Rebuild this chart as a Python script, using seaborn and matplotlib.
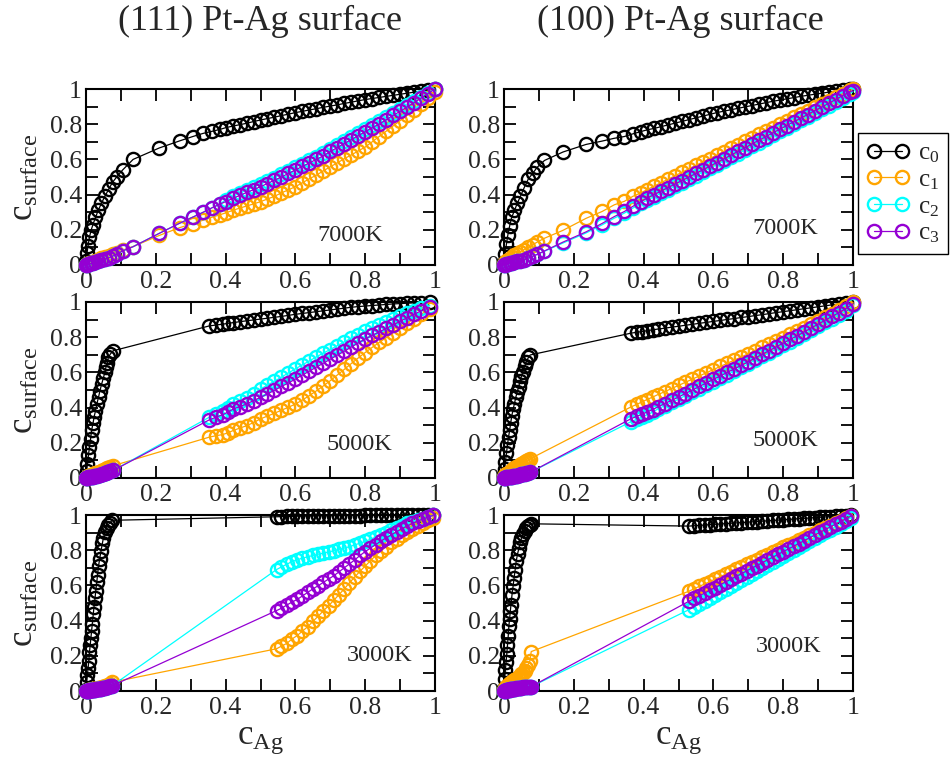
import matplotlib
matplotlib.use('Agg')
import matplotlib.pyplot as plt
import seaborn as sns
from matplotlib.ticker import MultipleLocator, FuncFormatter

sns.set_style('ticks')
plt.rcParams['font.family'] = ['Liberation Serif', 'DejaVu Serif']
plt.rcParams['mathtext.fontset'] = 'custom'
plt.rcParams['mathtext.rm'] = 'Liberation Serif'
plt.rcParams['mathtext.it'] = 'Liberation Serif:italic'

# ---- data: overall c_Ag and surface concentrations c0..c3 ----
# (111) surface, 7000K
x_111_7000 = [0.0, 0.003, 0.006, 0.01, 0.015, 0.02, 0.027, 0.035, 0.044, 0.054, 0.065, 0.076, 0.088,
              0.105, 0.135, 0.21, 0.268, 0.306, 0.336, 0.362, 0.383, 0.40,
              0.42, 0.44, 0.46, 0.48, 0.50, 0.52, 0.54, 0.56, 0.58, 0.60, 0.62, 0.64, 0.66, 0.68, 0.70,
              0.72, 0.74, 0.76, 0.78, 0.80, 0.82, 0.84, 0.86, 0.88, 0.90, 0.92, 0.94, 0.96, 0.98, 1.0]
c0_111_7000 = [0.02, 0.07, 0.11, 0.16, 0.20, 0.23, 0.27, 0.31, 0.35, 0.39, 0.43, 0.47, 0.50,
               0.54, 0.60, 0.665, 0.705, 0.73, 0.748, 0.76, 0.77, 0.78,
               0.789, 0.797, 0.805, 0.815, 0.824, 0.832, 0.84, 0.849, 0.857, 0.866, 0.873, 0.881, 0.888, 0.896, 0.903,
               0.91, 0.918, 0.925, 0.933, 0.94, 0.946, 0.952, 0.958, 0.964, 0.97, 0.976, 0.982, 0.988, 0.994, 1.0]
c1_111_7000 = [0.0, 0.003, 0.006, 0.01, 0.014, 0.018, 0.024, 0.03, 0.037, 0.045, 0.053, 0.062, 0.07,
               0.085, 0.105, 0.168, 0.212, 0.235, 0.255, 0.272, 0.285, 0.296,
               0.31, 0.323, 0.335, 0.347, 0.36, 0.375, 0.39, 0.41, 0.427, 0.445, 0.467, 0.49, 0.51, 0.535, 0.558,
               0.58, 0.604, 0.625, 0.648, 0.67, 0.70, 0.73, 0.76, 0.79, 0.82, 0.85, 0.88, 0.915, 0.95, 0.985]
c2_111_7000 = [0.0, 0.002, 0.004, 0.006, 0.009, 0.012, 0.016, 0.021, 0.027, 0.034, 0.042, 0.05, 0.06,
               0.08, 0.104, 0.18, 0.237, 0.272, 0.30, 0.326, 0.345, 0.37,
               0.39, 0.408, 0.425, 0.443, 0.46, 0.478, 0.497, 0.516, 0.536, 0.556, 0.576, 0.596, 0.616, 0.637, 0.66,
               0.682, 0.705, 0.727, 0.75, 0.772, 0.794, 0.816, 0.84, 0.863, 0.886, 0.91, 0.933, 0.956, 0.978, 1.0]
c3_111_7000 = [0.0, 0.002, 0.004, 0.006, 0.009, 0.012, 0.016, 0.021, 0.027, 0.034, 0.042, 0.05, 0.06,
               0.08, 0.104, 0.18, 0.237, 0.272, 0.30, 0.326, 0.345, 0.36,
               0.378, 0.395, 0.412, 0.428, 0.445, 0.463, 0.482, 0.50, 0.52, 0.54, 0.56, 0.58, 0.60, 0.62, 0.645,
               0.667, 0.69, 0.712, 0.735, 0.757, 0.78, 0.80, 0.825, 0.85, 0.873, 0.898, 0.922, 0.948, 0.974, 1.0]

# (100) surface, 7000K
x_100_7000 = [0.0, 0.003, 0.007, 0.011, 0.016, 0.022, 0.03, 0.038, 0.047, 0.058, 0.07, 0.082, 0.095,
              0.116, 0.169, 0.235, 0.281, 0.316, 0.345, 0.369, 0.392,
              0.41, 0.43, 0.45, 0.47, 0.49, 0.51, 0.53, 0.55, 0.57, 0.59, 0.61, 0.63, 0.65, 0.67, 0.69,
              0.71, 0.73, 0.75, 0.77, 0.79, 0.81, 0.83, 0.85, 0.87, 0.89, 0.91, 0.93, 0.95, 0.97, 0.99, 1.0]
c0_100_7000 = [0.01, 0.06, 0.12, 0.17, 0.22, 0.27, 0.31, 0.35, 0.39, 0.44, 0.49, 0.52, 0.555,
               0.594, 0.642, 0.685, 0.704, 0.72, 0.73, 0.745, 0.758,
               0.768, 0.776, 0.786, 0.796, 0.806, 0.816, 0.826, 0.836, 0.846, 0.856, 0.866, 0.874, 0.882, 0.89, 0.898,
               0.906, 0.914, 0.922, 0.93, 0.937, 0.944, 0.951, 0.958, 0.964, 0.97, 0.976, 0.982, 0.988, 0.994, 0.998, 1.0]
c1_100_7000 = [0.005, 0.012, 0.02, 0.027, 0.035, 0.045, 0.055, 0.065, 0.075, 0.088, 0.10, 0.115, 0.13,
               0.152, 0.197, 0.265, 0.304, 0.342, 0.362, 0.39, 0.41,
               0.428, 0.448, 0.468, 0.487, 0.507, 0.527, 0.547, 0.566, 0.586, 0.605, 0.625, 0.644, 0.664, 0.683, 0.703,
               0.722, 0.742, 0.761, 0.781, 0.80, 0.82, 0.839, 0.858, 0.877, 0.896, 0.915, 0.934, 0.953, 0.973, 0.992, 1.0]
c2_100_7000 = [0.0, 0.002, 0.004, 0.006, 0.009, 0.012, 0.016, 0.02, 0.025, 0.03, 0.04, 0.05, 0.06,
               0.078, 0.125, 0.182, 0.228, 0.266, 0.295, 0.323, 0.35,
               0.368, 0.388, 0.408, 0.428, 0.448, 0.468, 0.488, 0.508, 0.529, 0.55, 0.57, 0.591, 0.612, 0.633, 0.654,
               0.675, 0.696, 0.717, 0.738, 0.759, 0.78, 0.801, 0.822, 0.843, 0.864, 0.885, 0.906, 0.928, 0.95, 0.972, 0.985]
c3_100_7000 = [0.0, 0.002, 0.004, 0.006, 0.009, 0.012, 0.016, 0.02, 0.025, 0.03, 0.04, 0.05, 0.06,
               0.08, 0.13, 0.188, 0.236, 0.275, 0.304, 0.333, 0.36,
               0.38, 0.40, 0.42, 0.44, 0.46, 0.48, 0.50, 0.52, 0.541, 0.562, 0.582, 0.603, 0.624, 0.645, 0.666,
               0.687, 0.708, 0.729, 0.75, 0.771, 0.792, 0.813, 0.834, 0.855, 0.876, 0.897, 0.918, 0.94, 0.962, 0.984, 0.99]

# (111) surface, 5000K
x_111_5000 = [0.0, 0.002, 0.004, 0.007, 0.01, 0.013, 0.016, 0.02, 0.023, 0.027, 0.031, 0.036, 0.04, 0.045,
              0.05, 0.054, 0.057, 0.061, 0.064, 0.07, 0.078,
              0.353, 0.372, 0.392, 0.408, 0.422,
              0.44, 0.46, 0.48, 0.50, 0.52, 0.54, 0.56, 0.58, 0.60, 0.62, 0.64, 0.66, 0.68, 0.70, 0.72, 0.74,
              0.76, 0.78, 0.80, 0.82, 0.84, 0.86, 0.88, 0.90, 0.92, 0.94, 0.96, 0.985]
c0_111_5000 = [0.005, 0.04, 0.08, 0.13, 0.175, 0.22, 0.27, 0.31, 0.345, 0.38, 0.42, 0.46, 0.496, 0.535,
               0.57, 0.60, 0.628, 0.655, 0.685, 0.705, 0.723,
               0.864, 0.869, 0.874, 0.879, 0.883,
               0.888, 0.893, 0.898, 0.903, 0.908, 0.913, 0.918, 0.924, 0.93, 0.935, 0.94, 0.945, 0.95, 0.955, 0.96, 0.965,
               0.97, 0.974, 0.977, 0.98, 0.983, 0.986, 0.989, 0.991, 0.993, 0.995, 0.997, 0.999]
c1_111_5000 = [0.0, 0.003, 0.006, 0.009, 0.012, 0.015, 0.018, 0.021, 0.024, 0.027, 0.03, 0.033, 0.036, 0.04,
               0.043, 0.047, 0.05, 0.054, 0.058, 0.064, 0.07,
               0.232, 0.24, 0.247, 0.258, 0.27,
               0.283, 0.297, 0.315, 0.336, 0.352, 0.368, 0.385, 0.402, 0.42, 0.443, 0.468, 0.495, 0.523, 0.553, 0.585, 0.617,
               0.65, 0.682, 0.713, 0.742, 0.77, 0.797, 0.825, 0.855, 0.88, 0.905, 0.93, 0.96]
c2_111_5000 = [0.0, 0.001, 0.002, 0.003, 0.004, 0.005, 0.006, 0.008, 0.01, 0.012, 0.014, 0.016, 0.018, 0.021,
               0.024, 0.027, 0.03, 0.033, 0.036, 0.04, 0.043,
               0.345, 0.365, 0.383, 0.40, 0.42,
               0.437, 0.455, 0.48, 0.505, 0.528, 0.55, 0.573, 0.597, 0.62, 0.643, 0.665, 0.688, 0.71, 0.73, 0.752, 0.773,
               0.795, 0.815, 0.835, 0.853, 0.87, 0.887, 0.903, 0.92, 0.935, 0.95, 0.965, 0.98]
c3_111_5000 = [0.0, 0.001, 0.002, 0.003, 0.004, 0.005, 0.006, 0.008, 0.01, 0.012, 0.014, 0.016, 0.018, 0.021,
               0.024, 0.027, 0.03, 0.033, 0.036, 0.04, 0.043,
               0.33, 0.345, 0.36, 0.376, 0.392,
               0.405, 0.42, 0.44, 0.458, 0.478, 0.498, 0.52, 0.54, 0.562, 0.585, 0.607, 0.63, 0.652, 0.675, 0.698, 0.72,
               0.744, 0.767, 0.79, 0.81, 0.83, 0.85, 0.87, 0.89, 0.91, 0.93, 0.95, 0.97]

# (100) surface, 5000K
x_100_5000 = [0.0, 0.002, 0.004, 0.007, 0.01, 0.013, 0.016, 0.019, 0.022, 0.026, 0.03, 0.034, 0.038, 0.042,
              0.046, 0.05, 0.054, 0.059, 0.064, 0.07, 0.075,
              0.364, 0.38, 0.395, 0.41, 0.426,
              0.44, 0.46, 0.48, 0.50, 0.52, 0.54, 0.56, 0.58, 0.60, 0.62, 0.64, 0.66, 0.68, 0.70, 0.72, 0.74,
              0.76, 0.78, 0.80, 0.82, 0.84, 0.86, 0.88, 0.90, 0.92, 0.94, 0.96, 0.98, 1.0]
c0_100_5000 = [0.013, 0.05, 0.09, 0.14, 0.19, 0.232, 0.27, 0.31, 0.35, 0.39, 0.423, 0.46, 0.49, 0.518,
               0.55, 0.58, 0.604, 0.635, 0.661, 0.685, 0.699,
               0.823, 0.828, 0.832, 0.837, 0.842,
               0.846, 0.851, 0.857, 0.862, 0.868, 0.873, 0.879, 0.884, 0.89, 0.895, 0.901, 0.906, 0.912, 0.917, 0.923, 0.928,
               0.934, 0.94, 0.945, 0.951, 0.956, 0.962, 0.967, 0.973, 0.978, 0.984, 0.989, 0.995, 1.0]
c1_100_5000 = [0.005, 0.01, 0.015, 0.02, 0.025, 0.03, 0.035, 0.04, 0.045, 0.05, 0.055, 0.06, 0.065, 0.07,
               0.075, 0.08, 0.085, 0.09, 0.095, 0.102, 0.109,
               0.404, 0.418, 0.432, 0.446, 0.46,
               0.473, 0.49, 0.508, 0.526, 0.544, 0.562, 0.58, 0.598, 0.616, 0.634, 0.652, 0.67, 0.688, 0.706, 0.724, 0.742,
               0.76, 0.778, 0.797, 0.816, 0.835, 0.854, 0.873, 0.892, 0.912, 0.932, 0.953, 0.975, 0.998]
c2_100_5000 = [0.0, 0.001, 0.002, 0.003, 0.004, 0.005, 0.006, 0.007, 0.008, 0.009, 0.01, 0.012, 0.014, 0.016,
               0.018, 0.02, 0.022, 0.024, 0.027, 0.03, 0.032,
               0.32, 0.333, 0.346, 0.36, 0.374,
               0.391, 0.41, 0.429, 0.448, 0.468, 0.488, 0.508, 0.528, 0.548, 0.568, 0.588, 0.608, 0.628, 0.649, 0.67, 0.691,
               0.712, 0.733, 0.754, 0.775, 0.796, 0.818, 0.84, 0.862, 0.884, 0.906, 0.928, 0.951, 0.985]
c3_100_5000 = [0.0, 0.001, 0.002, 0.003, 0.004, 0.005, 0.006, 0.007, 0.008, 0.009, 0.01, 0.012, 0.014, 0.016,
               0.018, 0.02, 0.022, 0.024, 0.027, 0.03, 0.032,
               0.337, 0.35, 0.362, 0.375, 0.389,
               0.403, 0.422, 0.441, 0.46, 0.48, 0.50, 0.52, 0.54, 0.56, 0.58, 0.60, 0.62, 0.64, 0.661, 0.682, 0.703,
               0.724, 0.745, 0.766, 0.787, 0.808, 0.83, 0.852, 0.874, 0.896, 0.918, 0.94, 0.963, 0.99]

# (111) surface, 3000K
x_111_3000 = [0.0, 0.002, 0.004, 0.006, 0.008, 0.01, 0.012, 0.014, 0.016, 0.018, 0.021, 0.023, 0.026,
              0.028, 0.031, 0.033, 0.036, 0.039, 0.043, 0.047, 0.05, 0.055, 0.059, 0.064, 0.069, 0.075,
              0.546, 0.56, 0.575, 0.59, 0.605, 0.62, 0.635, 0.65, 0.665, 0.68, 0.695, 0.71, 0.725, 0.74, 0.755,
              0.77, 0.785, 0.80, 0.815, 0.83, 0.845, 0.86, 0.875, 0.89, 0.905, 0.92, 0.935, 0.95, 0.965, 0.98, 0.995]
c0_111_3000 = [0.005, 0.05, 0.09, 0.13, 0.17, 0.22, 0.26, 0.30, 0.34, 0.38, 0.44, 0.48, 0.53,
               0.57, 0.62, 0.66, 0.71, 0.75, 0.795, 0.84, 0.87, 0.905, 0.928, 0.945, 0.957, 0.97,
               0.99, 0.991, 0.992, 0.992, 0.993, 0.993, 0.994, 0.994, 0.995, 0.995, 0.995, 0.996, 0.996, 0.996, 0.997,
               0.997, 0.997, 0.998, 0.998, 0.998, 0.998, 0.999, 0.999, 0.999, 0.999, 0.999, 1.0, 1.0, 1.0, 1.0, 1.0]
c1_111_3000 = [0.0, 0.001, 0.002, 0.003, 0.004, 0.005, 0.006, 0.007, 0.008, 0.009, 0.01, 0.011, 0.012,
               0.013, 0.014, 0.015, 0.016, 0.017, 0.019, 0.021, 0.023, 0.027, 0.031, 0.036, 0.042, 0.05,
               0.24, 0.255, 0.27, 0.295, 0.315, 0.34, 0.365, 0.395, 0.425, 0.455, 0.485, 0.515, 0.548, 0.58, 0.615,
               0.648, 0.68, 0.71, 0.74, 0.77, 0.795, 0.82, 0.845, 0.865, 0.885, 0.905, 0.92, 0.94, 0.955, 0.97, 0.985]
c2_111_3000 = [0.0, 0.001, 0.001, 0.002, 0.002, 0.003, 0.003, 0.004, 0.005, 0.005, 0.006, 0.007, 0.008,
               0.009, 0.01, 0.011, 0.012, 0.013, 0.014, 0.015, 0.017, 0.019, 0.021, 0.024, 0.027, 0.03,
               0.69, 0.705, 0.72, 0.735, 0.745, 0.755, 0.762, 0.77, 0.777, 0.783, 0.79, 0.797, 0.805, 0.812, 0.82,
               0.83, 0.84, 0.85, 0.862, 0.875, 0.888, 0.90, 0.913, 0.926, 0.94, 0.952, 0.963, 0.972, 0.98, 0.99, 0.998]
c3_111_3000 = [0.0, 0.001, 0.001, 0.002, 0.002, 0.003, 0.003, 0.004, 0.005, 0.005, 0.006, 0.007, 0.008,
               0.009, 0.01, 0.011, 0.012, 0.013, 0.014, 0.015, 0.017, 0.019, 0.021, 0.024, 0.027, 0.03,
               0.457, 0.47, 0.488, 0.505, 0.52, 0.54, 0.56, 0.58, 0.598, 0.617, 0.636, 0.655, 0.677, 0.70, 0.722,
               0.745, 0.77, 0.792, 0.812, 0.832, 0.852, 0.87, 0.887, 0.905, 0.922, 0.937, 0.952, 0.965, 0.977, 0.988, 0.998]

# (100) surface, 3000K
x_100_3000 = [0.0, 0.002, 0.004, 0.006, 0.008, 0.01, 0.012, 0.014, 0.016, 0.018, 0.02, 0.023, 0.026,
              0.029, 0.032, 0.035, 0.039, 0.043, 0.047, 0.05, 0.055, 0.059, 0.064, 0.069, 0.074, 0.078,
              0.53, 0.545, 0.56, 0.575, 0.59, 0.605, 0.62, 0.635, 0.65, 0.665, 0.68, 0.695, 0.71, 0.725, 0.74,
              0.755, 0.77, 0.785, 0.80, 0.815, 0.83, 0.845, 0.86, 0.875, 0.89, 0.905, 0.92, 0.935, 0.95, 0.965, 0.98, 0.995]
c0_100_3000 = [0.01, 0.07, 0.12, 0.167, 0.21, 0.262, 0.31, 0.37, 0.41, 0.452, 0.49, 0.548, 0.595,
               0.643, 0.69, 0.738, 0.78, 0.814, 0.845, 0.87, 0.89, 0.909, 0.925, 0.937, 0.945, 0.95,
               0.937, 0.939, 0.941, 0.943, 0.945, 0.947, 0.949, 0.951, 0.953, 0.955, 0.957, 0.959, 0.961, 0.963, 0.965,
               0.967, 0.969, 0.971, 0.973, 0.975, 0.977, 0.979, 0.981, 0.983, 0.985, 0.987, 0.989, 0.991, 0.993, 0.995, 0.997, 0.999]
c1_100_3000 = [0.005, 0.01, 0.015, 0.02, 0.024, 0.028, 0.032, 0.036, 0.04, 0.044, 0.048, 0.052, 0.056,
               0.06, 0.065, 0.07, 0.075, 0.08, 0.088, 0.095, 0.105, 0.115, 0.13, 0.15, 0.17, 0.224,
               0.567, 0.581, 0.595, 0.608, 0.622, 0.636, 0.65, 0.664, 0.678, 0.691, 0.705, 0.719, 0.733, 0.747, 0.76,
               0.774, 0.788, 0.802, 0.816, 0.829, 0.843, 0.857, 0.871, 0.885, 0.898, 0.912, 0.926, 0.94, 0.954, 0.968, 0.981, 0.995]
c2_100_3000 = [0.0, 0.001, 0.002, 0.003, 0.004, 0.005, 0.006, 0.007, 0.008, 0.009, 0.01, 0.011, 0.012,
               0.013, 0.014, 0.015, 0.016, 0.017, 0.018, 0.019, 0.02, 0.021, 0.022, 0.023, 0.024, 0.025,
               0.462, 0.479, 0.496, 0.513, 0.53, 0.546, 0.563, 0.58, 0.597, 0.614, 0.631, 0.648, 0.664, 0.681, 0.698,
               0.715, 0.732, 0.749, 0.766, 0.782, 0.799, 0.816, 0.833, 0.85, 0.867, 0.884, 0.901, 0.917, 0.934, 0.951, 0.968, 0.985]
c3_100_3000 = [0.0, 0.001, 0.002, 0.003, 0.004, 0.005, 0.006, 0.007, 0.008, 0.009, 0.01, 0.011, 0.012,
               0.013, 0.014, 0.015, 0.016, 0.017, 0.018, 0.019, 0.02, 0.021, 0.022, 0.023, 0.024, 0.025,
               0.51, 0.526, 0.541, 0.557, 0.573, 0.588, 0.604, 0.62, 0.635, 0.651, 0.666, 0.682, 0.698, 0.713, 0.729,
               0.745, 0.76, 0.776, 0.792, 0.807, 0.823, 0.838, 0.854, 0.87, 0.885, 0.901, 0.917, 0.932, 0.948, 0.963, 0.979, 0.995]

series_labels = [r'$\mathrm{c}_0$', r'$\mathrm{c}_1$', r'$\mathrm{c}_2$', r'$\mathrm{c}_3$']
series_colors = ['black', '#FFA500', '#00FFFF', '#9400D3']
titles = ['(111) Pt-Ag surface', '(100) Pt-Ag surface']
temps = ['7000K', '5000K', '3000K']

panels = {
    (0, 0): (x_111_7000, [c0_111_7000, c1_111_7000, c2_111_7000, c3_111_7000]),
    (0, 1): (x_100_7000, [c0_100_7000, c1_100_7000, c2_100_7000, c3_100_7000]),
    (1, 0): (x_111_5000, [c0_111_5000, c1_111_5000, c2_111_5000, c3_111_5000]),
    (1, 1): (x_100_5000, [c0_100_5000, c1_100_5000, c2_100_5000, c3_100_5000]),
    (2, 0): (x_111_3000, [c0_111_3000, c1_111_3000, c2_111_3000, c3_111_3000]),
    (2, 1): (x_100_3000, [c0_100_3000, c1_100_3000, c2_100_3000, c3_100_3000]),
}

# layout (pixels of a 951x767 canvas)
W, H = 951, 767
col_left = [86, 504]
row_bottom = [265, 478, 691]
ax_w, ax_h = 349, 176
# temperature label anchor (right edge, vertical centre) in axes fraction
temp_pos = {(0, 0): (0.851, 0.165), (0, 1): (0.90, 0.21),
            (1, 0): (0.877, 0.19), (1, 1): (0.90, 0.215),
            (2, 0): (0.934, 0.20), (2, 1): (0.91, 0.25)}

fig = plt.figure(figsize=(W / 100, H / 100), dpi=100)
fmt = FuncFormatter(lambda v, p: f'{v:g}')
axes = {}

for (r, c), (x, ys) in panels.items():
    ax = fig.add_axes([col_left[c] / W, 1 - row_bottom[r] / H, ax_w / W, ax_h / H])
    axes[(r, c)] = ax
    for i, y in enumerate(ys):
        sns.lineplot(x=x, y=y, ax=ax, color=series_colors[i], linewidth=0.9,
                     marker='o', markersize=9.5, markerfacecolor='none',
                     markeredgecolor=series_colors[i], markeredgewidth=1.7,
                     sort=False, estimator=None, legend=False, clip_on=False,
                     label=series_labels[i], zorder=3 + i)
    ax.set_xlim(0, 1)
    ax.set_ylim(0, 1)
    ax.xaxis.set_major_locator(MultipleLocator(0.2))
    ax.xaxis.set_minor_locator(MultipleLocator(0.1))
    ax.yaxis.set_major_locator(MultipleLocator(0.2))
    ax.yaxis.set_minor_locator(MultipleLocator(0.1))
    ax.xaxis.set_major_formatter(fmt)
    ax.yaxis.set_major_formatter(fmt)
    ax.tick_params(which='both', direction='in', top=True, right=True,
                   length=8.5, width=1.3, color='black', labelsize=18.5, pad=4)
    ax.tick_params(axis='y', pad=3)
    for s in ax.spines.values():
        s.set_linewidth(1.5)
        s.set_color('black')
    ax.set_xlabel('')
    ax.set_ylabel('')
    if c == 0:
        ax.set_ylabel(r'$\mathrm{c}_{\mathrm{surface}}$', fontsize=25)
        ax.yaxis.set_label_coords(-0.13, 0.5)
    if r == 2:
        ax.set_xlabel(r'$\mathrm{c}_{\mathrm{Ag}}$', fontsize=25, labelpad=3)
    tx, ty = temp_pos[(r, c)]
    ax.text(tx, ty, temps[r], transform=ax.transAxes, ha='right', va='center', fontsize=17.5)

fig.text(260 / W, 1 - 21 / H, titles[0], ha='center', va='center', fontsize=26)
fig.text(680 / W, 1 - 21 / H, titles[1], ha='center', va='center', fontsize=26)

handles = axes[(0, 1)].get_lines()[:4]
leg = fig.legend(handles, series_labels, loc='upper left', bbox_to_anchor=(858 / W, 1 - 133 / H),
                 frameon=True, fancybox=False, framealpha=1, edgecolor='black', fontsize=18,
                 numpoints=2, handlelength=1.7, handletextpad=0.35, borderpad=0.35,
                 labelspacing=0.15, borderaxespad=0)
leg.get_frame().set_linewidth(1.0)

fig.savefig('out.png', dpi=100)
